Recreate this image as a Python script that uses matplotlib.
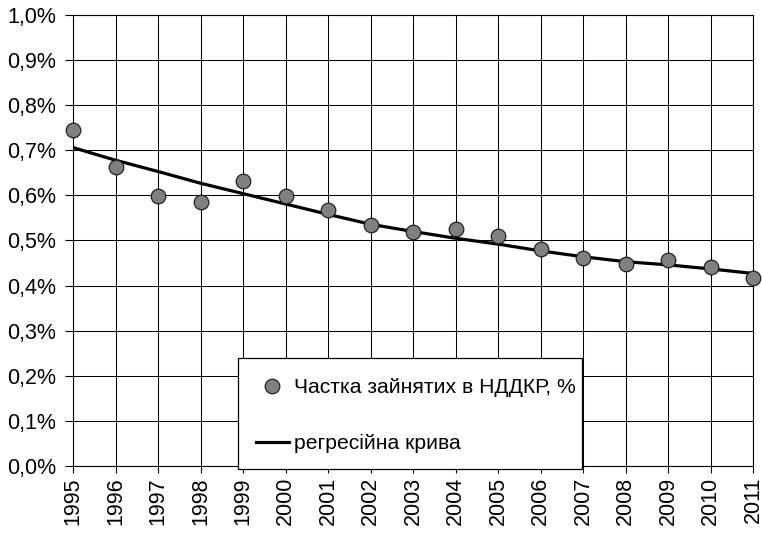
import matplotlib
matplotlib.use("Agg")
import matplotlib.pyplot as plt
from matplotlib.ticker import FuncFormatter, MultipleLocator
from matplotlib.lines import Line2D
from matplotlib.patches import Rectangle

plt.rcParams['font.family'] = ['Liberation Sans', 'DejaVu Sans']

# Share of R&D employees, % (observed) and the fitted regression curve
years = [1995, 1996, 1997, 1998, 1999, 2000, 2001, 2002, 2003,
         2004, 2005, 2006, 2007, 2008, 2009, 2010, 2011]
share = [0.745, 0.664, 0.599, 0.585, 0.632, 0.599, 0.567, 0.534, 0.519,
         0.525, 0.510, 0.481, 0.462, 0.447, 0.457, 0.442, 0.416]
fitted = [0.706, 0.678, 0.653, 0.627, 0.604, 0.581, 0.558, 0.536, 0.520,
          0.505, 0.492, 0.477, 0.464, 0.453, 0.446, 0.437, 0.427]

label_points = "Частка зайнятих в НДДКР, %"
label_curve = "регресійна крива"
FS = 15.5

fig = plt.figure(figsize=(7.62, 5.37), dpi=100)
W, H = 762, 537
ax = fig.add_axes([73 / W, (H - 466) / H, (753 - 73) / W, (466 - 15) / H])

ax.plot(years, fitted, color='black', lw=2.3, zorder=3, solid_joinstyle='round')
ax.plot(years, share, linestyle='none', marker='o', markersize=10.5,
        markerfacecolor='#808080', markeredgecolor='#202020',
        markeredgewidth=0.9, zorder=4, clip_on=False)

ax.set_xlim(years[0], years[-1])
ax.set_ylim(0, 1.0)
ax.set_xticks(years)
ax.set_xticklabels([str(y) for y in years], rotation=90)
ax.yaxis.set_major_locator(MultipleLocator(0.1))
ax.yaxis.set_major_formatter(FuncFormatter(lambda v, p: f"{v:.1f}%".replace('.', ',')))

ax.grid(True, color='black', lw=0.75)
ax.set_axisbelow(True)
for s in ax.spines.values():
    s.set_color('black')
    s.set_linewidth(0.8)
ax.tick_params(axis='both', labelsize=FS, colors='black', width=0.8)
ax.tick_params(axis='y', length=6, pad=6)
ax.tick_params(axis='x', length=5, pad=3)

# Legend box (white panel with a thin black border) over the lower plot area
box = Rectangle((238 / W, (H - 469) / H), (582 - 238) / W, (469 - 358) / H,
                transform=fig.transFigure, facecolor='white', edgecolor='black',
                linewidth=0.9, zorder=9, clip_on=False)
ax.add_patch(box)

handles = [
    Line2D([], [], linestyle='none', marker='o', markersize=10.5,
           markerfacecolor='#808080', markeredgecolor='#202020', markeredgewidth=0.9),
    Line2D([], [], color='black', lw=2.3),
]
leg = ax.legend(handles, [label_points, label_curve],
                loc='upper left', bbox_to_anchor=(256 / W, (H - 378) / H),
                bbox_transform=fig.transFigure,
                fontsize=15.2, frameon=False, handlelength=1.55,
                handletextpad=0.25, labelspacing=1.75, borderpad=0,
                borderaxespad=0)
leg.set_zorder(10)

fig.savefig("out.png", dpi=100)
